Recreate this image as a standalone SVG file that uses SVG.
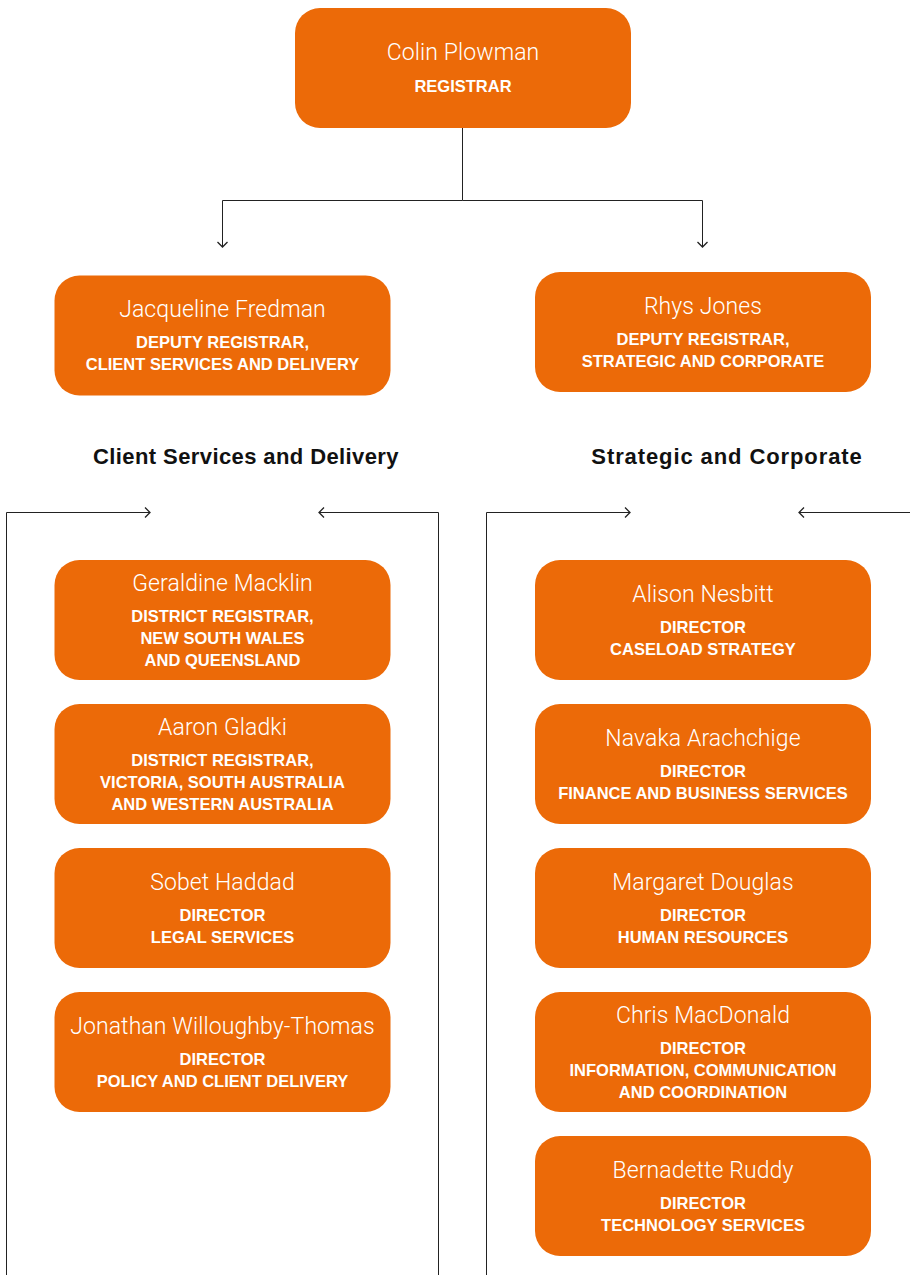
<svg xmlns="http://www.w3.org/2000/svg" width="910" height="1275" viewBox="0 0 910 1275">
  <style>
    .box { fill: #EC6A08; }
    .name { font-family: Roboto, "Liberation Sans", sans-serif; font-weight: 300; font-size: 23px; letter-spacing: 0.1px; fill: #FFFFFF; text-anchor: middle; }
    .role { font-family: "Liberation Sans", Arial, sans-serif; font-weight: bold; font-size: 16.5px; fill: #FFFFFF; text-anchor: middle; }
    .head { font-family: "Liberation Sans", Arial, sans-serif; font-weight: bold; font-size: 22px; letter-spacing: 0.4px; fill: #111111; text-anchor: middle; }
    .wire { fill: none; stroke: #222222; stroke-width: 1; }
  </style>
  <defs>
    <marker id="chev" viewBox="0 0 10 12" refX="9" refY="6" markerWidth="10" markerHeight="12" markerUnits="userSpaceOnUse" orient="auto">
      <path d="M4,1 L9,6 L4,11" fill="none" stroke="#222222" stroke-width="1.3"/>
    </marker>
  </defs>

  <rect width="910" height="1275" fill="#FFFFFF"/>

  <!-- connectors -->
  <g id="connectors">
    <path class="wire" d="M462.5,128 V200.5"/>
    <path class="wire" d="M462.5,200.5 H222.5 V247" marker-end="url(#chev)"/>
    <path class="wire" d="M462.5,200.5 H702.5 V247" marker-end="url(#chev)"/>
    <!-- Client Services and Delivery bracket -->
    <path class="wire" d="M6.5,1275 V512.5 H150" marker-end="url(#chev)"/>
    <path class="wire" d="M438.5,1275 V512.5 H319" marker-end="url(#chev)"/>
    <!-- Strategic and Corporate bracket -->
    <path class="wire" d="M486.5,1275 V512.5 H630" marker-end="url(#chev)"/>
    <path class="wire" d="M910,512.5 H799" marker-end="url(#chev)"/>
  </g>

  <!-- section headings -->
  <text class="head" x="246" y="464">Client Services and Delivery</text>
  <text class="head" x="727" y="464" style="letter-spacing:0.9px">Strategic and Corporate</text>

  <g id="registrar">
    <rect class="box" x="295" y="8" width="336" height="120" rx="25"/>
    <text class="name" x="463" y="60">Colin Plowman</text>
    <text class="role" x="463" y="92">REGISTRAR</text>
  </g>

  <g id="deputy-client">
    <rect class="box" x="54.5" y="275.5" width="336" height="120" rx="25"/>
    <text class="name" x="222.5" y="316.5">Jacqueline Fredman</text>
    <text class="role" x="222.5" y="348">DEPUTY REGISTRAR,</text>
    <text class="role" x="222.5" y="370">CLIENT SERVICES AND DELIVERY</text>
  </g>

  <g id="deputy-strategic">
    <rect class="box" x="535" y="272" width="336" height="120" rx="25"/>
    <text class="name" x="703" y="313.5">Rhys Jones</text>
    <text class="role" x="703" y="345">DEPUTY REGISTRAR,</text>
    <text class="role" x="703" y="367">STRATEGIC AND CORPORATE</text>
  </g>

  <!-- Client Services and Delivery column -->
  <g id="nsw-qld">
    <rect class="box" x="54.5" y="560" width="336" height="120" rx="25"/>
    <text class="name" x="222.5" y="590.5">Geraldine Macklin</text>
    <text class="role" x="222.5" y="622">DISTRICT REGISTRAR,</text>
    <text class="role" x="222.5" y="644">NEW SOUTH WALES</text>
    <text class="role" x="222.5" y="666">AND QUEENSLAND</text>
  </g>

  <g id="vic-sa-wa">
    <rect class="box" x="54.5" y="704" width="336" height="120" rx="25"/>
    <text class="name" x="222.5" y="734.5">Aaron Gladki</text>
    <text class="role" x="222.5" y="766">DISTRICT REGISTRAR,</text>
    <text class="role" x="222.5" y="788">VICTORIA, SOUTH AUSTRALIA</text>
    <text class="role" x="222.5" y="810">AND WESTERN AUSTRALIA</text>
  </g>

  <g id="legal">
    <rect class="box" x="54.5" y="848" width="336" height="120" rx="25"/>
    <text class="name" x="222.5" y="889.5">Sobet Haddad</text>
    <text class="role" x="222.5" y="921">DIRECTOR</text>
    <text class="role" x="222.5" y="943">LEGAL SERVICES</text>
  </g>

  <g id="policy">
    <rect class="box" x="54.5" y="992" width="336" height="120" rx="25"/>
    <text class="name" x="222.5" y="1033.5">Jonathan Willoughby-Thomas</text>
    <text class="role" x="222.5" y="1065">DIRECTOR</text>
    <text class="role" x="222.5" y="1087">POLICY AND CLIENT DELIVERY</text>
  </g>

  <!-- Strategic and Corporate column -->
  <g id="caseload">
    <rect class="box" x="535" y="560" width="336" height="120" rx="25"/>
    <text class="name" x="703" y="601.5">Alison Nesbitt</text>
    <text class="role" x="703" y="633">DIRECTOR</text>
    <text class="role" x="703" y="655">CASELOAD STRATEGY</text>
  </g>

  <g id="finance">
    <rect class="box" x="535" y="704" width="336" height="120" rx="25"/>
    <text class="name" x="703" y="745.5">Navaka Arachchige</text>
    <text class="role" x="703" y="777">DIRECTOR</text>
    <text class="role" x="703" y="799">FINANCE AND BUSINESS SERVICES</text>
  </g>

  <g id="hr">
    <rect class="box" x="535" y="848" width="336" height="120" rx="25"/>
    <text class="name" x="703" y="889.5">Margaret Douglas</text>
    <text class="role" x="703" y="921">DIRECTOR</text>
    <text class="role" x="703" y="943">HUMAN RESOURCES</text>
  </g>

  <g id="info-comms">
    <rect class="box" x="535" y="992" width="336" height="120" rx="25"/>
    <text class="name" x="703" y="1022.5">Chris MacDonald</text>
    <text class="role" x="703" y="1054">DIRECTOR</text>
    <text class="role" x="703" y="1076">INFORMATION, COMMUNICATION</text>
    <text class="role" x="703" y="1098">AND COORDINATION</text>
  </g>

  <g id="technology">
    <rect class="box" x="535" y="1136" width="336" height="120" rx="25"/>
    <text class="name" x="703" y="1177.5">Bernadette Ruddy</text>
    <text class="role" x="703" y="1209">DIRECTOR</text>
    <text class="role" x="703" y="1231">TECHNOLOGY SERVICES</text>
  </g>
</svg>
